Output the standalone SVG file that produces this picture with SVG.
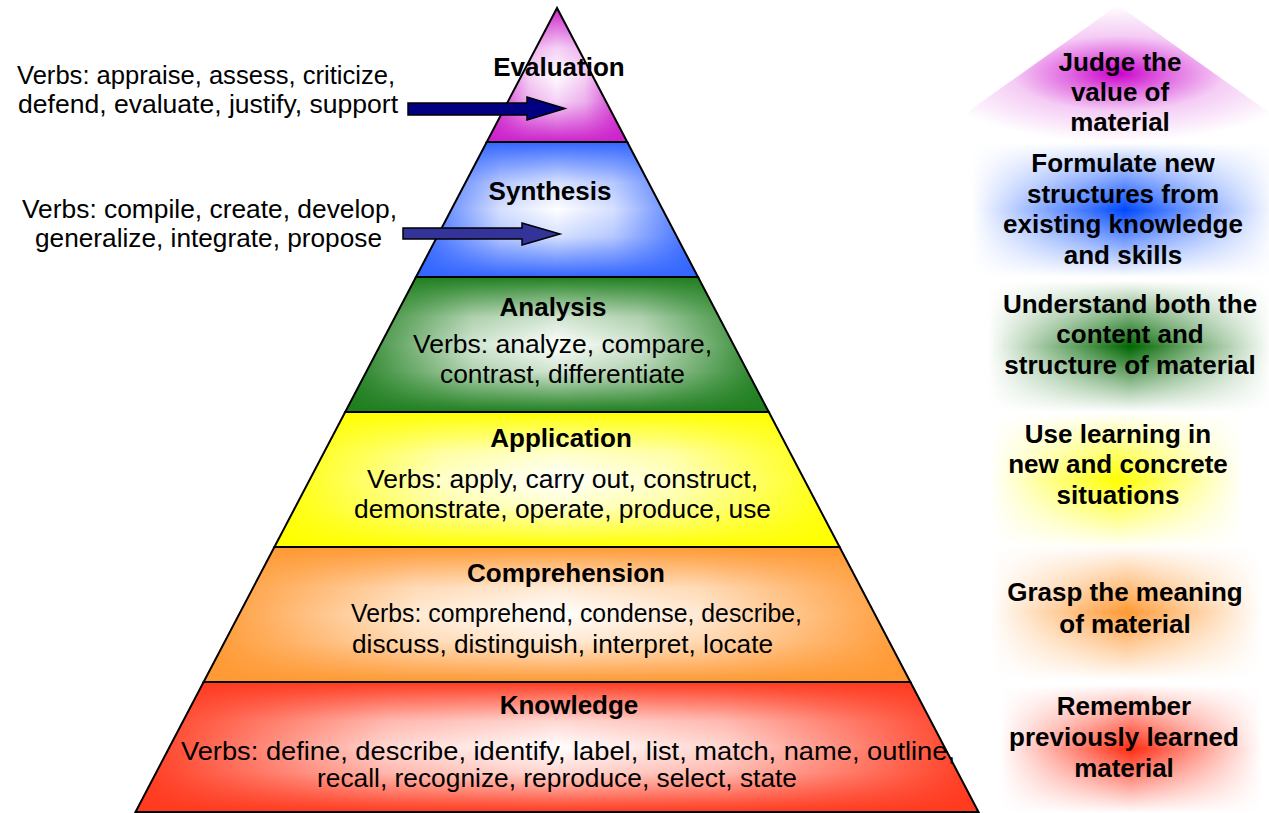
<svg xmlns="http://www.w3.org/2000/svg" width="1269" height="813" viewBox="0 0 1269 813">
<style>
.lbl{font-family:"Liberation Sans",Arial,sans-serif;font-size:26px;font-weight:bold;fill:#000;text-anchor:middle}
.vb{font-family:"Liberation Sans",Arial,sans-serif;font-size:25px;fill:#000;text-anchor:middle}
.edge{fill:none;stroke:#000;stroke-width:2;stroke-linejoin:miter}
.wo{fill:url(#hW);mask:url(#mV)}
</style>
<defs>
<linearGradient id="hW" x1="0" y1="0" x2="1" y2="0">
<stop offset="0" stop-color="#fff" stop-opacity="0"/>
<stop offset="0.3" stop-color="#fff" stop-opacity="0.8"/>
<stop offset="0.5" stop-color="#fff" stop-opacity="1"/>
<stop offset="0.7" stop-color="#fff" stop-opacity="0.8"/>
<stop offset="1" stop-color="#fff" stop-opacity="0"/>
</linearGradient>
<linearGradient id="vT" x1="0" y1="0" x2="0" y2="1">
<stop offset="0" stop-color="#000"/>
<stop offset="0.3" stop-color="#ccc"/>
<stop offset="0.5" stop-color="#fff"/>
<stop offset="0.7" stop-color="#ccc"/>
<stop offset="1" stop-color="#000"/>
</linearGradient>
<mask id="mV" maskUnits="objectBoundingBox" maskContentUnits="objectBoundingBox" x="0" y="0" width="1" height="1">
<rect width="1" height="1" fill="url(#vT)"/>
</mask>
<linearGradient id="vT2" x1="0" y1="0" x2="0" y2="1">
<stop offset="0" stop-color="#000"/>
<stop offset="0.5" stop-color="#fff"/>
<stop offset="1" stop-color="#000"/>
</linearGradient>
<mask id="mV2" maskUnits="objectBoundingBox" maskContentUnits="objectBoundingBox" x="0" y="0" width="1" height="1">
<rect width="1" height="1" fill="url(#vT2)"/>
</mask>
<radialGradient id="rM" cx="0.5" cy="0.5" r="0.5">
<stop offset="0" stop-color="#CC00CC"/>
<stop offset="0.25" stop-color="#CC00CC" stop-opacity="0.6"/>
<stop offset="0.55" stop-color="#CC00CC" stop-opacity="0.2"/>
<stop offset="1" stop-color="#CC00CC" stop-opacity="0"/>
</radialGradient>
<linearGradient id="hB" x1="0" x2="1" y1="0" y2="0"><stop offset="0" stop-color="#0048FF" stop-opacity="0"/><stop offset="0.5" stop-color="#0048FF"/><stop offset="1" stop-color="#0048FF" stop-opacity="0"/></linearGradient>
<linearGradient id="hG" x1="0" x2="1" y1="0" y2="0"><stop offset="0" stop-color="#006600" stop-opacity="0"/><stop offset="0.5" stop-color="#006600"/><stop offset="1" stop-color="#006600" stop-opacity="0"/></linearGradient>
<linearGradient id="hY" x1="0" x2="1" y1="0" y2="0"><stop offset="0" stop-color="#FFFF00" stop-opacity="0"/><stop offset="0.5" stop-color="#FFFF00"/><stop offset="1" stop-color="#FFFF00" stop-opacity="0"/></linearGradient>
<linearGradient id="hO" x1="0" x2="1" y1="0" y2="0"><stop offset="0" stop-color="#FF9933" stop-opacity="0"/><stop offset="0.5" stop-color="#FF9933"/><stop offset="1" stop-color="#FF9933" stop-opacity="0"/></linearGradient>
<linearGradient id="hR" x1="0" x2="1" y1="0" y2="0"><stop offset="0" stop-color="#FF2A10" stop-opacity="0"/><stop offset="0.5" stop-color="#FF2A10"/><stop offset="1" stop-color="#FF2A10" stop-opacity="0"/></linearGradient>
</defs>
<rect width="1269" height="813" fill="#fff"/>

<!-- right side descriptions -->
<g id="desc-evaluation">
<polygon points="1118,5 925,142 1311,142" fill="url(#rM)"/>
<text class="lbl" x="1120" y="71">Judge the</text>
<text class="lbl" x="1120" y="101">value of</text>
<text class="lbl" x="1120" y="131">material</text>
</g>
<g id="desc-synthesis">
<rect x="972" y="143" width="305" height="134" fill="url(#hB)" mask="url(#mV2)"/>
<text class="lbl" x="1123" y="172">Formulate new</text>
<text class="lbl" x="1123" y="203">structures from</text>
<text class="lbl" x="1123" y="233">existing knowledge</text>
<text class="lbl" x="1123" y="264">and skills</text>
</g>
<g id="desc-analysis">
<rect x="988" y="281" width="284" height="131" fill="url(#hG)" mask="url(#mV2)"/>
<text class="lbl" x="1130" y="313">Understand both the</text>
<text class="lbl" x="1130" y="343">content and</text>
<text class="lbl" x="1130" y="374">structure of material</text>
</g>
<g id="desc-application">
<rect x="990" y="413" width="254" height="135" fill="url(#hY)" mask="url(#mV2)"/>
<text class="lbl" x="1118" y="443">Use learning in</text>
<text class="lbl" x="1118" y="473">new and concrete</text>
<text class="lbl" x="1118" y="504">situations</text>
</g>
<g id="desc-comprehension">
<rect x="990" y="545" width="272" height="135" fill="url(#hO)" mask="url(#mV2)"/>
<text class="lbl" x="1125" y="601">Grasp the meaning</text>
<text class="lbl" x="1125" y="633">of material</text>
</g>
<g id="desc-knowledge">
<rect x="1000" y="685" width="262" height="128" fill="url(#hR)" mask="url(#mV2)"/>
<text class="lbl" x="1124" y="715">Remember</text>
<text class="lbl" x="1124" y="746">previously learned</text>
<text class="lbl" x="1124" y="777">material</text>
</g>

<!-- pyramid layers -->
<g id="layer-evaluation">
<polygon points="557,8 486.75,142 627.25,142" fill="#CC22CC"/>
<polygon class="wo" points="557,8 486.75,142 627.25,142"/>
<polygon class="edge" points="557,8 486.75,142 627.25,142"/>
<text class="lbl" x="559" y="76">Evaluation</text>
</g>
<g id="layer-synthesis">
<polygon points="486.75,142 627.25,142 698,277 416,277" fill="#3366FF"/>
<polygon class="wo" points="486.75,142 627.25,142 698,277 416,277"/>
<polygon class="edge" points="486.75,142 627.25,142 698,277 416,277"/>
<text class="lbl" x="550" y="200">Synthesis</text>
</g>
<g id="layer-analysis">
<polygon points="416,277 698,277 768.8,412 345.2,412" fill="#1F7F1F"/>
<polygon class="wo" points="416,277 698,277 768.8,412 345.2,412"/>
<polygon class="edge" points="416,277 698,277 768.8,412 345.2,412"/>
<text class="lbl" x="553" y="316">Analysis</text>
<text class="vb" x="562.5" y="353" textLength="299" lengthAdjust="spacingAndGlyphs">Verbs: analyze, compare,</text>
<text class="vb" x="562.5" y="383" textLength="245" lengthAdjust="spacingAndGlyphs">contrast, differentiate</text>
</g>
<g id="layer-application">
<polygon points="345.2,412 768.8,412 839.6,547 274.4,547" fill="#FFFF00"/>
<polygon class="wo" points="345.2,412 768.8,412 839.6,547 274.4,547"/>
<polygon class="edge" points="345.2,412 768.8,412 839.6,547 274.4,547"/>
<text class="lbl" x="561" y="447">Application</text>
<text class="vb" x="562.5" y="488" textLength="391" lengthAdjust="spacingAndGlyphs">Verbs: apply, carry out, construct,</text>
<text class="vb" x="562.5" y="518" textLength="417" lengthAdjust="spacingAndGlyphs">demonstrate, operate, produce, use</text>
</g>
<g id="layer-comprehension">
<polygon points="274.4,547 839.6,547 910.4,682 203.6,682" fill="#FF9933"/>
<polygon class="wo" points="274.4,547 839.6,547 910.4,682 203.6,682"/>
<polygon class="edge" points="274.4,547 839.6,547 910.4,682 203.6,682"/>
<text class="lbl" x="566" y="582">Comprehension</text>
<text class="vb" x="576.5" y="622" textLength="451" lengthAdjust="spacingAndGlyphs">Verbs: comprehend, condense, describe,</text>
<text class="vb" x="562.5" y="653" textLength="421" lengthAdjust="spacingAndGlyphs">discuss, distinguish, interpret, locate</text>
</g>
<g id="layer-knowledge">
<polygon points="203.6,682 910.4,682 978.5,812 135.5,812" fill="#FF3A1F"/>
<polygon class="wo" points="203.6,682 910.4,682 978.5,812 135.5,812"/>
<polygon class="edge" points="203.6,682 910.4,682 978.5,812 135.5,812"/>
<text class="lbl" x="569" y="714">Knowledge</text>
<text class="vb" x="568" y="760" textLength="774" lengthAdjust="spacingAndGlyphs">Verbs: define, describe, identify, label, list, match, name, outline,</text>
<text class="vb" x="557" y="787" textLength="480" lengthAdjust="spacingAndGlyphs">recall, recognize, reproduce, select, state</text>
</g>

<!-- left verb notes -->
<g id="note-evaluation">
<text class="vb" x="206" y="84" textLength="378" lengthAdjust="spacingAndGlyphs">Verbs: appraise, assess, criticize,</text>
<text class="vb" x="208" y="113" textLength="380" lengthAdjust="spacingAndGlyphs">defend, evaluate, justify, support</text>
</g>
<g id="note-synthesis">
<text class="vb" x="209.5" y="218" textLength="375" lengthAdjust="spacingAndGlyphs">Verbs: compile, create, develop,</text>
<text class="vb" x="208.5" y="247" textLength="347" lengthAdjust="spacingAndGlyphs">generalize, integrate, propose</text>
</g>

<!-- connectors -->
<g id="connectors" stroke="#000" stroke-width="1.5" stroke-linejoin="miter">
<polygon points="408,103 527,103 527,97 565,108.5 527,120 527,115 408,115" fill="#000080"/>
<polygon points="403,228 522,228 522,223 560,234 522,245 522,239 403,239" fill="#333399"/>
</g>
</svg>
